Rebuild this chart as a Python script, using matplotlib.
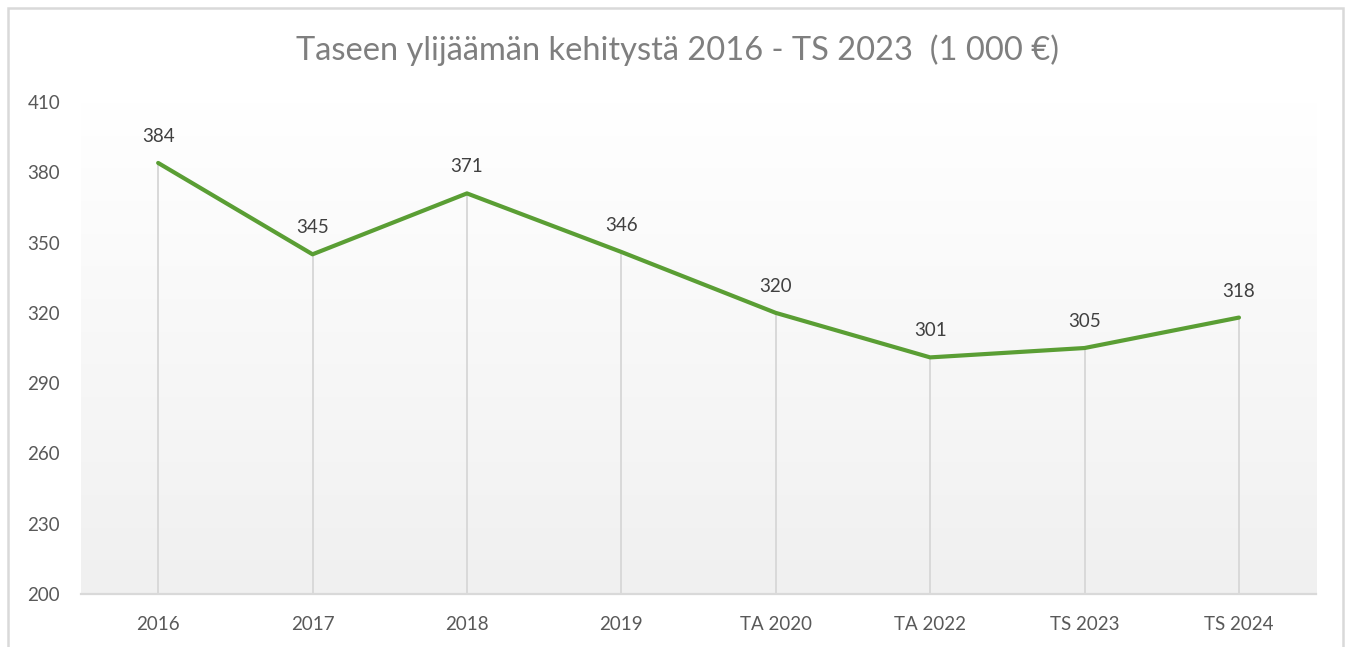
import numpy as np
import matplotlib
matplotlib.use('Agg')
import matplotlib.pyplot as plt
from matplotlib.colors import LinearSegmentedColormap
from matplotlib.patches import Rectangle

# Data
categories = ['2016', '2017', '2018', '2019', 'TA 2020', 'TA 2022', 'TS 2023', 'TS 2024']
values = [384, 345, 371, 346, 320, 301, 305, 318]
yticks = [200, 230, 260, 290, 320, 350, 380, 410]

plt.rcParams['font.family'] = ['Lato', 'DejaVu Sans']

fig = plt.figure(figsize=(13.47, 6.47), dpi=100)
ax = fig.add_axes([0.0601, 0.0819, 0.917, 0.7604])

x = np.arange(len(categories))
ax.set_xlim(-0.5, len(categories) - 0.5)
ax.set_ylim(200, 410)

# gradient background (white at top -> light grey at bottom)
cmap = LinearSegmentedColormap.from_list('bg', ['#f0f0f0', '#ffffff'])
grad = np.linspace(0, 1, 256).reshape(-1, 1)
ax.imshow(grad, aspect='auto', cmap=cmap, origin='lower',
          extent=[-0.5, len(categories) - 0.5, 200, 410], zorder=0)

# drop lines
ax.vlines(x, 200, values, colors='#d9d9d9', linewidth=1.4, zorder=1)

# main line
ax.plot(x, values, color='#5a9e34', linewidth=3, solid_capstyle='round', zorder=3)

# data labels
for xi, v in zip(x, values):
    ax.annotate(str(v), (xi, v), xytext=(0, 13), textcoords='offset points',
                ha='center', va='bottom', fontsize=13.5, color='#404040')

ax.set_xticks(x)
ax.set_xticklabels(categories, fontsize=13.5, color='#595959')
ax.set_yticks(yticks)
ax.set_yticklabels([str(t) for t in yticks], fontsize=13.5, color='#595959')
ax.tick_params(axis='both', length=0)
ax.tick_params(axis='x', pad=16)
ax.tick_params(axis='y', pad=15)

for side in ['top', 'right', 'left']:
    ax.spines[side].set_visible(False)
ax.spines['bottom'].set_color('#d9d9d9')
ax.spines['bottom'].set_linewidth(1.6)
ax.spines['bottom'].set_zorder(4)

fig.text(0.5026, 0.922, 'Taseen ylijäämän kehitystä 2016 - TS 2023  (1 000 €)',
         ha='center', va='center', fontsize=23.5, color='#7f7f7f')

# chart border
fig.patches.append(Rectangle((8 / 1347, -0.05), 1335 / 1347, 1.05 - 8 / 647,
                             transform=fig.transFigure, fill=False,
                             edgecolor='#d9d9d9', linewidth=1.8))

fig.savefig('out.png', dpi=100)
